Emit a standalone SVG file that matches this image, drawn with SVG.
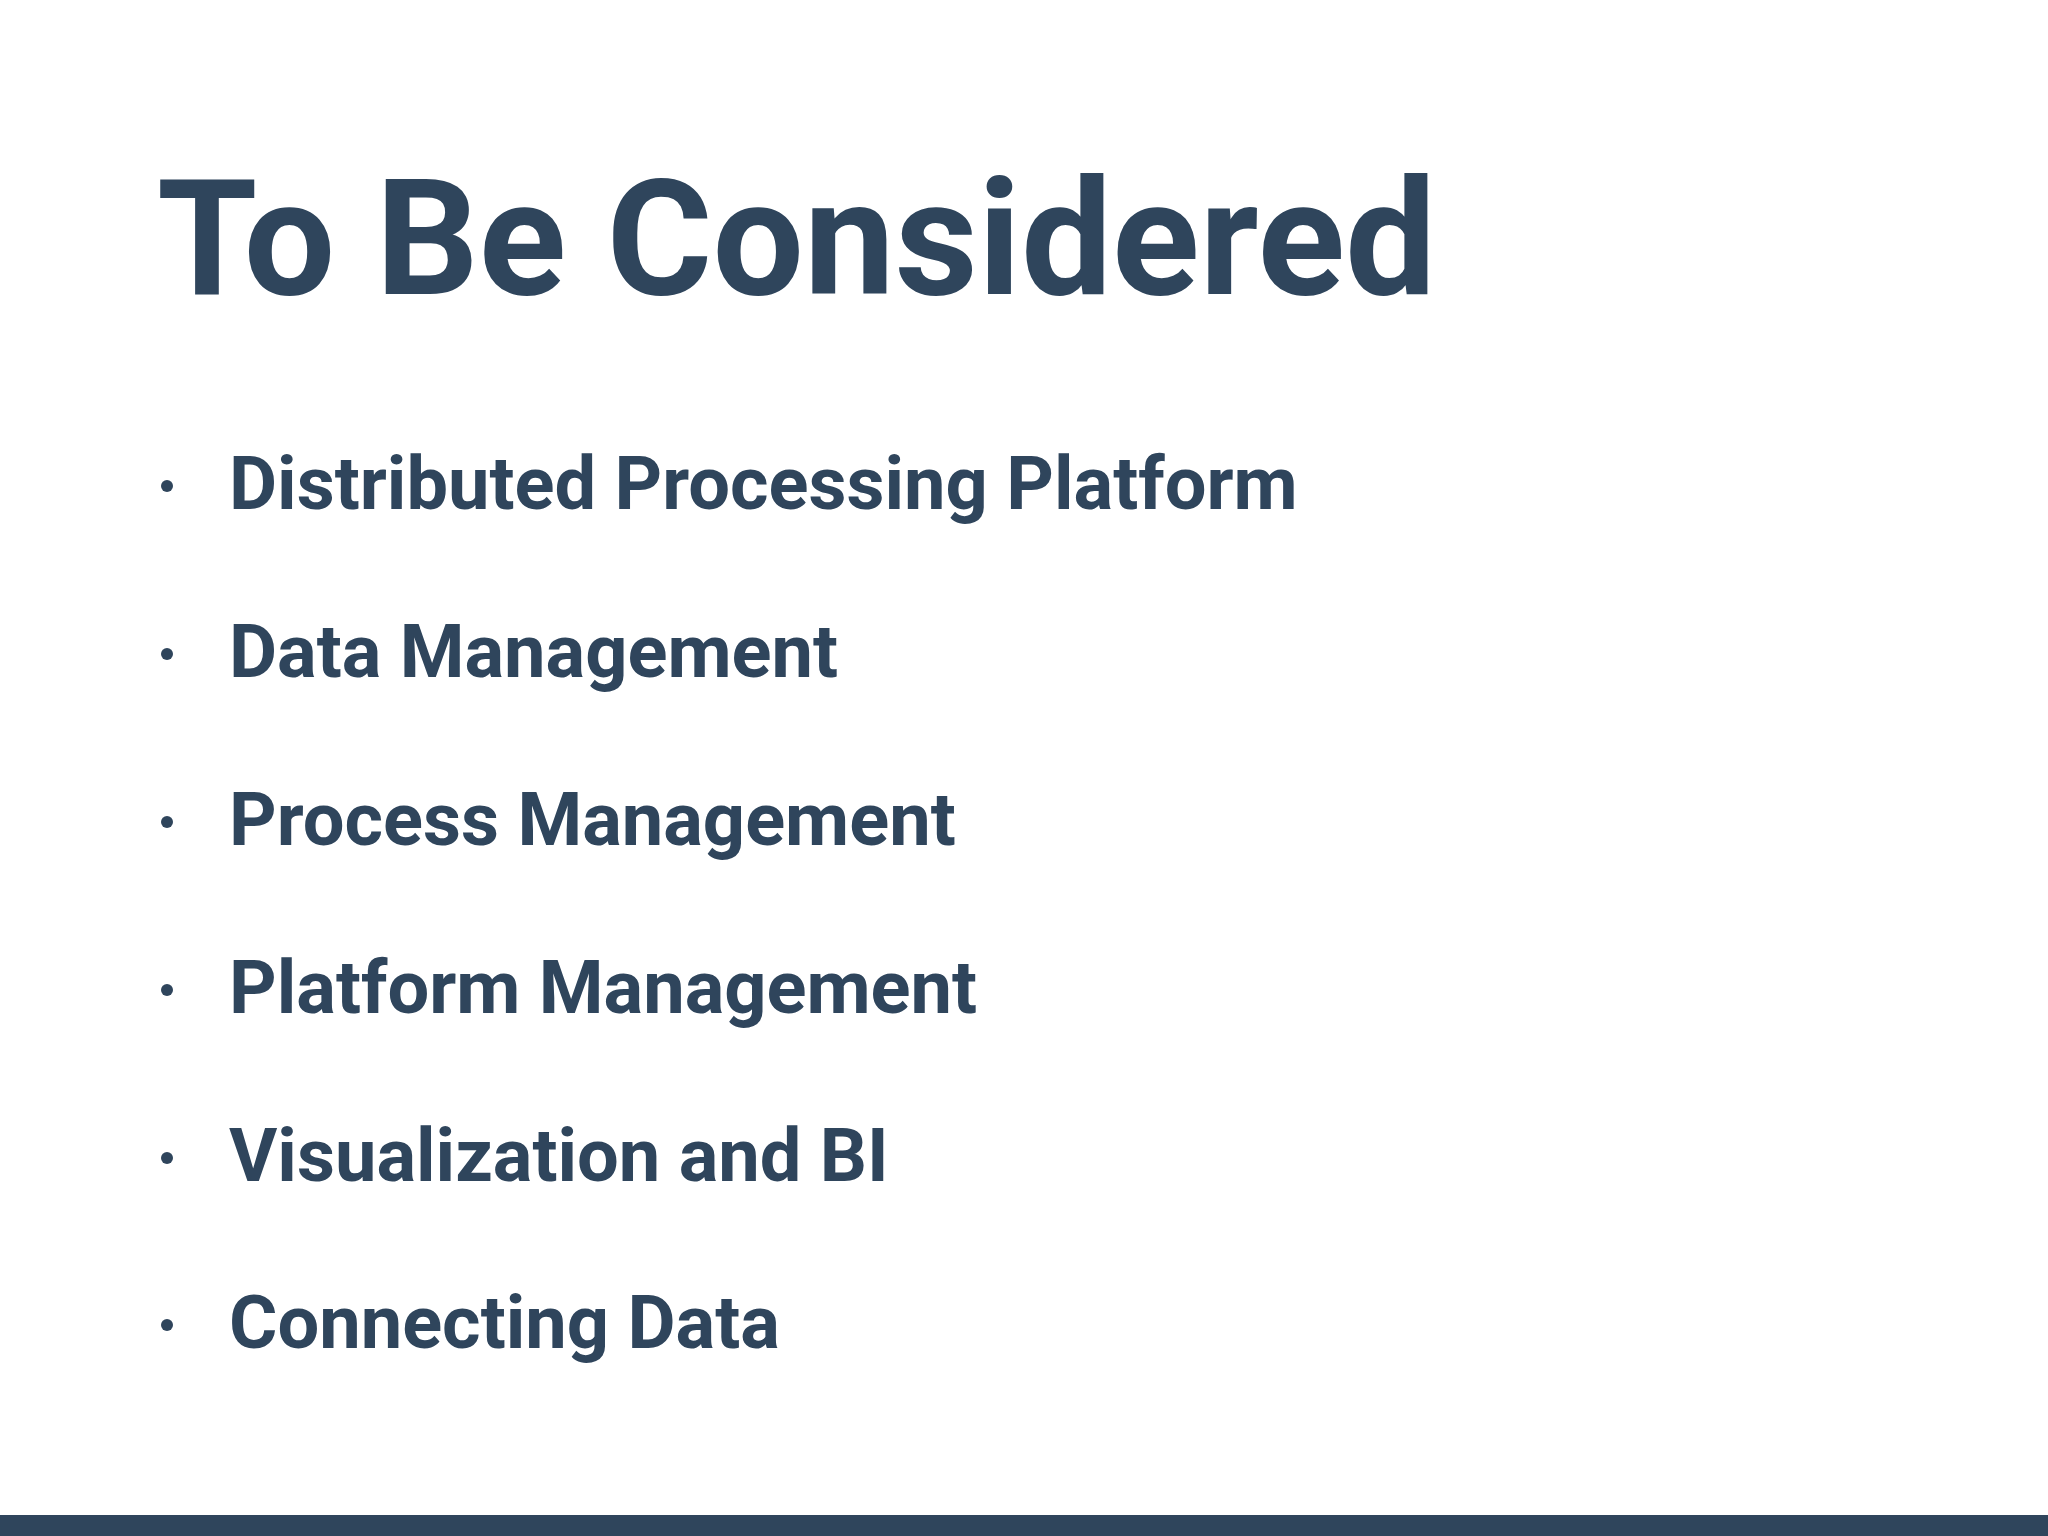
<svg xmlns="http://www.w3.org/2000/svg" width="2048" height="1536" viewBox="0 0 2048 1536">
<style>
.t{font-family:Roboto,"Liberation Sans",sans-serif;font-weight:bold;fill:#2f455c}
.b{font-size:74px}
.d{fill:#2f455c}
</style>
<rect width="2048" height="1536" fill="#ffffff"/>
<text id="title" class="t" x="157" y="294" font-size="162">To Be Considered</text>
<g id="bullets">
<g id="b1"><circle class="d" cx="167" cy="486" r="6"/><text class="t b" x="229" y="509">Distributed Processing Platform</text></g>
<g id="b2"><circle class="d" cx="167" cy="654" r="6"/><text class="t b" x="229" y="677">Data Management</text></g>
<g id="b3"><circle class="d" cx="167" cy="822" r="6"/><text class="t b" x="229" y="845">Process Management</text></g>
<g id="b4"><circle class="d" cx="167" cy="990" r="6"/><text class="t b" x="229" y="1013">Platform Management</text></g>
<g id="b5"><circle class="d" cx="167" cy="1158" r="6"/><text class="t b" x="229" y="1181">Visualization and BI</text></g>
<g id="b6"><circle class="d" cx="167" cy="1325" r="6"/><text class="t b" x="229" y="1348">Connecting Data</text></g>
</g>
<rect x="0" y="1515" width="2048" height="21" fill="#2f455c"/>
</svg>
